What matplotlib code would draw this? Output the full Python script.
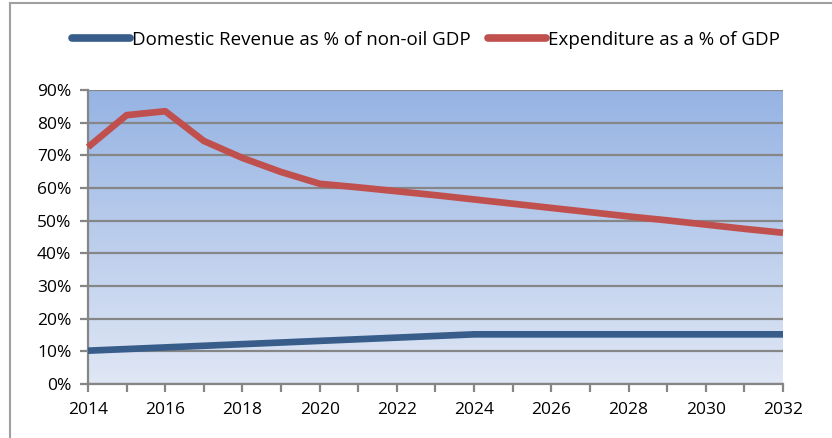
import matplotlib
matplotlib.use("Agg")
import matplotlib.pyplot as plt
import numpy as np
from matplotlib.lines import Line2D
from matplotlib.colors import LinearSegmentedColormap

years = [2014, 2015, 2016, 2017, 2018, 2019, 2020, 2021, 2022, 2023,
         2024, 2025, 2026, 2027, 2028, 2029, 2030, 2031, 2032]
domestic_revenue = [10.2, 10.7, 11.2, 11.7, 12.2, 12.7, 13.2, 13.7, 14.2, 14.7,
                    15.2, 15.2, 15.2, 15.2, 15.2, 15.2, 15.2, 15.2, 15.2]
expenditure = [72.5, 82.3, 83.5, 74.4, 69.2, 64.9, 61.3, 60.2, 59.0, 57.8,
               56.5, 55.2, 53.9, 52.6, 51.3, 50.1, 48.8, 47.5, 46.3]
series_names = ["Domestic Revenue as % of non-oil GDP", "Expenditure as a % of GDP"]
y_ticks = [0, 10, 20, 30, 40, 50, 60, 70, 80, 90]
x_ticks = [2014, 2016, 2018, 2020, 2022, 2024, 2026, 2028, 2030, 2032]

plt.rcParams['font.family'] = ['Open Sans', 'DejaVu Sans']

W, H = 832, 438
fig = plt.figure(figsize=(W / 100, H / 100), dpi=100)
ax = fig.add_axes([88 / W, 1 - 384 / H, (783 - 88) / W, (384 - 90) / H])

blue = "#385D8A"
red = "#C0504D"
grid_c = "#868686"

# gradient background
cmap = LinearSegmentedColormap.from_list("bg", ["#E0E7F5", "#95B3E3"])
grad = np.linspace(0, 1, 256).reshape(-1, 1)
ax.imshow(grad, aspect="auto", cmap=cmap, origin="lower",
          extent=[0, 1, 0, 1], transform=ax.transAxes, zorder=0)

ax.set_xlim(2014, 2032)
ax.set_ylim(0, 90)
ax.set_yticks(y_ticks)
ax.set_yticklabels([f"{v}%" for v in y_ticks])
ax.set_xticks(years, minor=False)
ax.set_xticklabels([str(y) if y in x_ticks else "" for y in years])

ax.grid(axis="y", color=grid_c, linewidth=1.6, zorder=1)
ax.set_axisbelow(False)
for s in ["top", "right"]:
    ax.spines[s].set_visible(False)
for s in ["left", "bottom"]:
    ax.spines[s].set_color(grid_c)
    ax.spines[s].set_linewidth(1.6)
ax.tick_params(axis="both", colors=grid_c, length=6, width=1.6,
               labelcolor="black", labelsize=12.5, direction="out")
ax.tick_params(axis="x", pad=7)
ax.tick_params(axis="y", pad=6)

ax.plot(years, domestic_revenue, color=blue, linewidth=4.8, solid_capstyle="butt", zorder=3, clip_on=False)
ax.plot(years, expenditure, color=red, linewidth=4.8, solid_capstyle="butt", zorder=3, clip_on=False)

handles = [Line2D([0], [0], color=blue, linewidth=5.5, solid_capstyle="round"),
           Line2D([0], [0], color=red, linewidth=5.5, solid_capstyle="round")]
fig.legend(handles, series_names, loc="center", bbox_to_anchor=(426 / W, 1 - 40 / H),
           ncol=2, frameon=False, fontsize=13.5, handlelength=3.1,
           handletextpad=0.1, columnspacing=0.9)

# outer border
fig.add_artist(Line2D([10 / W, 10 / W], [0, 1 - 3 / H], transform=fig.transFigure,
                      color="#A0A0A0", linewidth=1.5))
fig.add_artist(Line2D([10 / W, 1], [1 - 3 / H, 1 - 3 / H], transform=fig.transFigure,
                      color="#A0A0A0", linewidth=1.5))

fig.savefig("out.png", dpi=100)
